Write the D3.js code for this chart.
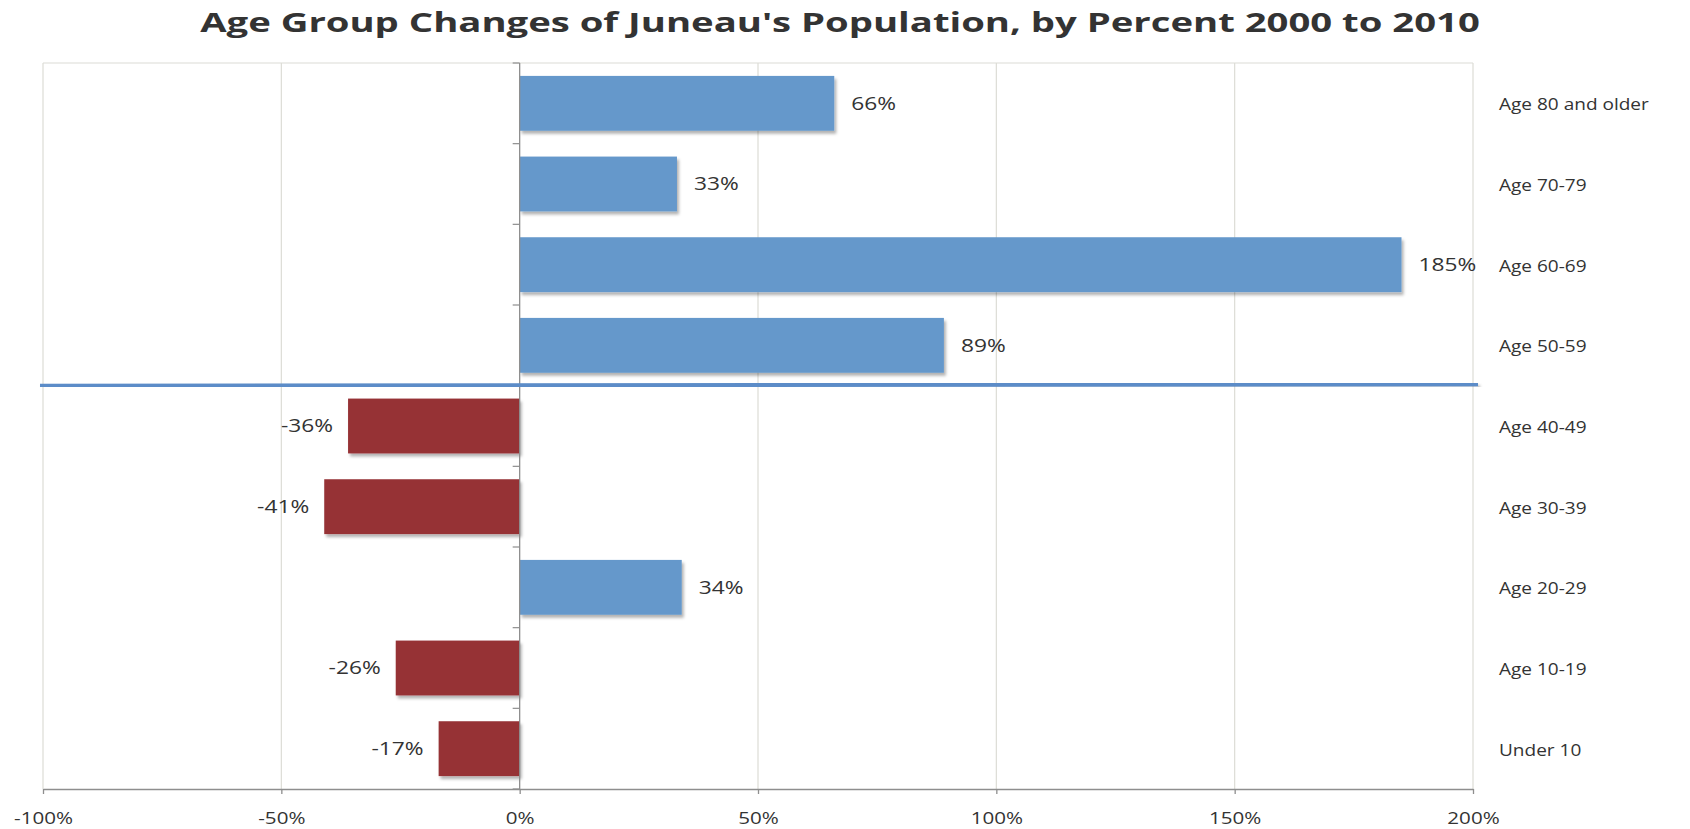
<!DOCTYPE html>
<html>
<head>
<meta charset="utf-8">
<script src="https://cdn.jsdelivr.net/npm/d3@7"></script>
<style>
  html, body { margin: 0; padding: 0; background: #fff; }
  svg { display: block; }
  text { font-family: "Open Sans", "Noto Sans", sans-serif; fill: #333; }
</style>
</head>
<body>
<svg id="chart" width="1690" height="829"></svg>
<script>
// ---- data ----
const categories = ["Age 80 and older", "Age 70-79", "Age 60-69", "Age 50-59", "Age 40-49", "Age 30-39", "Age 20-29", "Age 10-19", "Under 10"];
const values = [66, 33, 185, 89, -36, -41, 34, -26, -17];
const valueLabels = ["66%", "33%", "185%", "89%", "-36%", "-41%", "34%", "-26%", "-17%"];
const tickValues = [-100, -50, 0, 50, 100, 150, 200];
const tickLabels = ["-100%", "-50%", "0%", "50%", "100%", "150%", "200%"];
const chartTitle = "Age Group Changes of Juneau's Population, by Percent 2000 to 2010";

(function () {
// ---- layout ----
const mLeft = 43, mRight = 1473, mTop = 63, mBottom = 789;
const svg = d3.select("#chart");

const defs = svg.append("defs");
const f = defs.append("filter").attr("id", "shadow").attr("x", "-5%").attr("y", "-20%").attr("width", "115%").attr("height", "150%");
f.append("feDropShadow").attr("dx", 2).attr("dy", 3).attr("stdDeviation", 1.8)
  .attr("flood-color", "#000").attr("flood-opacity", 0.3);

const x = d3.scaleLinear().domain([-100, 200]).range([mLeft, mRight]);
const y = d3.scaleBand().domain(categories).range([mTop, mBottom]).paddingInner(0.32).paddingOuter(0.16);

// gridlines
svg.append("g").selectAll("line").data(tickValues.filter(d => d !== 0)).join("line")
  .attr("x1", d => x(d)).attr("x2", d => x(d)).attr("y1", mTop).attr("y2", mBottom)
  .attr("stroke", "#dcdcd6").attr("stroke-width", 1.2);
svg.append("line").attr("x1", mLeft).attr("x2", mRight).attr("y1", mTop).attr("y2", mTop)
  .attr("stroke", "#dcdcd6").attr("stroke-width", 1.2);

// bars
svg.append("g").selectAll("rect").data(values).join("rect")
  .attr("x", d => x(Math.min(0, d)))
  .attr("width", d => Math.abs(x(d) - x(0)))
  .attr("y", (d, i) => y(categories[i]))
  .attr("height", y.bandwidth())
  .attr("fill", d => d >= 0 ? "#6598cb" : "#963035")
  .attr("filter", "url(#shadow)");

// zero axis with category ticks
const zx = x(0);
svg.append("line").attr("x1", zx).attr("x2", zx).attr("y1", mTop).attr("y2", mBottom)
  .attr("stroke", "#8e8e8e").attr("stroke-width", 1.3);
const bounds = categories.map(c => y(c) - y.step() * y.paddingInner() / 2).concat([mBottom]);
svg.append("g").selectAll("line").data(bounds).join("line")
  .attr("x1", zx - 7).attr("x2", zx).attr("y1", d => d).attr("y2", d => d)
  .attr("stroke", "#8e8e8e").attr("stroke-width", 1.2);

// bottom axis
const xAxis = d3.axisBottom(x).tickValues(tickValues).tickFormat((d, i) => tickLabels[i]).tickSize(5).tickSizeOuter(0);
const gx = svg.append("g").attr("transform", `translate(0,${mBottom})`).call(xAxis);
gx.select(".domain").attr("stroke", "#8e8e8e").attr("stroke-width", 1.3);
gx.selectAll(".tick line").attr("stroke", "#8e8e8e").attr("stroke-width", 1.3);
gx.selectAll(".tick text")
  .attr("y", 0).attr("dy", 0)
  .attr("transform", "translate(0,35) scale(1.33,1)")
  .style("font-family", "'Open Sans', sans-serif").style("font-size", "15.5px").attr("fill", "#333");

// divider line between 50-59 and 40-49
const divY = y(categories[4]) - y.step() * y.paddingInner() / 2;
svg.append("line").attr("x1", mLeft - 3).attr("x2", mRight + 5).attr("y1", divY).attr("y2", divY - 1.5)
  .attr("stroke", "#5b8cc8").attr("stroke-width", 4).attr("filter", "url(#shadow)");

// value labels
svg.append("g").selectAll("text").data(values).join("text")
  .attr("transform", (d, i) => {
    const tx = d >= 0 ? x(d) + 17 : x(d) - 15;
    const ty = y(categories[i]) + y.bandwidth() / 2;
    return `translate(${tx},${ty}) scale(1.3,1)`;
  })
  .attr("dy", "0.36em")
  .attr("text-anchor", d => d >= 0 ? "start" : "end")
  .style("font-size", "17.5px")
  .text((d, i) => valueLabels[i]);

// category labels (right axis)
const yAxis = d3.axisRight(y).tickSize(0).tickPadding(0);
const gy = svg.append("g").attr("transform", `translate(${mRight},0)`).call(yAxis);
gy.select(".domain").remove();
gy.selectAll(".tick text")
  .attr("x", 0).attr("dy", "0.36em")
  .attr("transform", "translate(26,1) scale(1.12,1)")
  .style("font-family", "'Open Sans', sans-serif").style("font-size", "17px").attr("fill", "#333");

// title
const t = svg.append("text")
  .attr("text-anchor", "middle")
  .style("font-size", "26px").style("font-weight", "700").attr("fill", "#222")
  .text(chartTitle);
const natural = t.node().getComputedTextLength();
const sx = 1280 / natural;
t.attr("transform", `translate(840,32) scale(${sx},1)`);
})();
</script>
</body>
</html>
